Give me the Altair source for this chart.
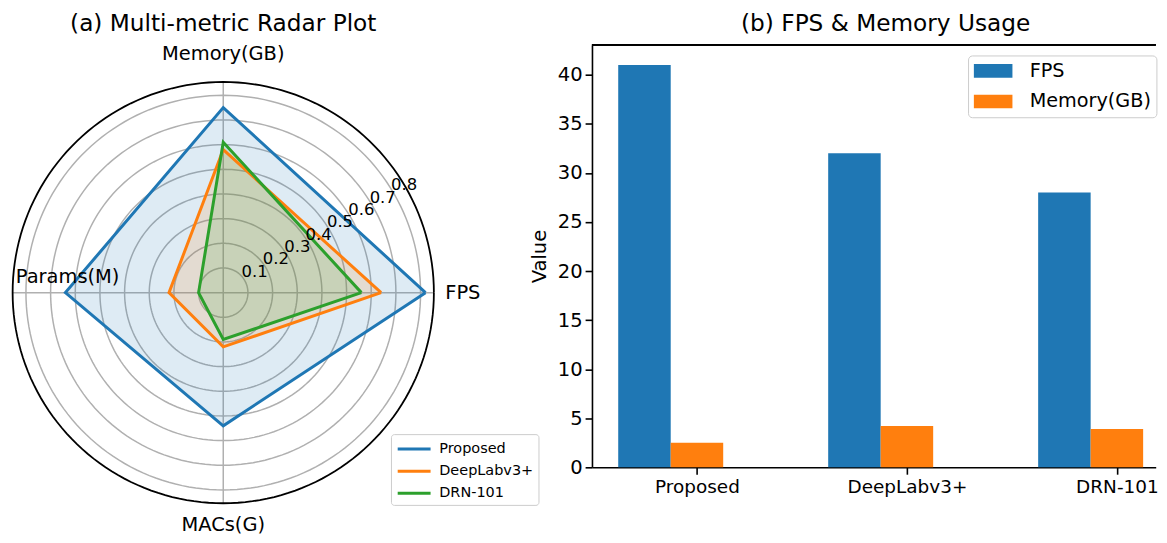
import altair as alt
import pandas as pd

# ---------------- data ----------------
models = ["Proposed", "DeepLabv3+", "DRN-101"]
metrics = ["FPS", "Memory(GB)", "Params(M)", "MACs(G)"]
proposed_scores = [0.82, 0.75, 0.64, 0.54]
deeplab_scores = [0.64, 0.58, 0.22, 0.22]
drn_scores = [0.56, 0.61, 0.10, 0.19]
r_ticks = [0.1, 0.2, 0.3, 0.4, 0.5, 0.6, 0.7, 0.8]
r_max = 0.854

bar_series = ["FPS", "Memory(GB)"]
fps = [41, 32, 28]
memory_gb = [2.5, 4.2, 3.9]
y_ticks = [0, 5, 10, 15, 20, 25, 30, 35, 40]
y_max = 43.05

model_colors = ["#1f77b4", "#ff7f0e", "#2ca02c"]
bar_colors = ["#1f77b4", "#ff7f0e"]
FONT = "DejaVu Sans"

# ---------------- layout constants ----------------
PX = 247.5            # px per radar unit
WL, HL = 585.3, 470   # left panel plot size
CX, CY = 216, 248.7   # radar centre inside left panel
xdom = [-CX / PX, (WL - CX) / PX]
ydom = [(CY - HL) / PX, CY / PX]
N = len(metrics)
RLABEL_DEG = 30

# radar tables
poly_rows = []
for m, sc in zip(models, [proposed_scores, deeplab_scores, drn_scores]):
    for k in range(N + 1):
        poly_rows.append({"model": m, "k": k, "v": sc[k % N]})
poly = pd.DataFrame(poly_rows)

grid = pd.DataFrame([{"r": r, "deg": d} for r in r_ticks for d in range(0, 361, 2)])
outer = pd.DataFrame([{"r": r_max, "deg": d} for d in range(0, 361, 2)])
spokes = pd.DataFrame({"k": list(range(N)), "r": [r_max] * N})
rlab = pd.DataFrame({"r": r_ticks, "txt": [f"{r:.1f}" for r in r_ticks]})

# axis-label placement (layout, in radar units)
lab_pos = {
    "FPS": (0.900, -0.025),
    "Memory(GB)": (0.0, 0.944),
    "Params(M)": (-0.631, 0.038),
    "MACs(G)": (0.0, -0.965),
}
labs = pd.DataFrame({"metric": metrics,
                     "lx": [lab_pos[m][0] for m in metrics],
                     "ly": [lab_pos[m][1] for m in metrics]})

xs = alt.Scale(domain=xdom, nice=False, zero=False)
ys = alt.Scale(domain=ydom, nice=False, zero=False)


def XY(xf="x", yf="y"):
    return dict(x=alt.X(f"{xf}:Q", scale=xs, axis=None),
                y=alt.Y(f"{yf}:Q", scale=ys, axis=None))


circ_calc = dict(x="datum.r * cos(datum.deg * PI / 180)",
                 y="datum.r * sin(datum.deg * PI / 180)")

grid_layer = alt.Chart(grid).transform_calculate(**circ_calc).mark_line(
    color="#b0b0b0", strokeWidth=1.5
).encode(**XY(), detail="r:N", order="deg:Q")

spoke_layer = alt.Chart(spokes).transform_calculate(
    x=f"datum.r * cos(datum.k * 2 * PI / {N})",
    y=f"datum.r * sin(datum.k * 2 * PI / {N})",
    x0="0", y0="0",
).mark_rule(color="#b0b0b0", strokeWidth=1.5).encode(
    x=alt.X("x0:Q", scale=xs, axis=None), y=alt.Y("y0:Q", scale=ys, axis=None),
    x2="x:Q", y2="y:Q")

poly_calc = dict(x=f"datum.v * cos(datum.k * 2 * PI / {N})",
                 y=f"datum.v * sin(datum.k * 2 * PI / {N})")

fill_layers = [
    alt.Chart(poly).transform_filter(alt.datum.model == m).transform_calculate(**poly_calc)
    .mark_line(fill=c, fillOpacity=0.15, strokeOpacity=0, stroke=c)
    .encode(**XY(), order="k:Q")
    for m, c in zip(models, model_colors)
]

# legend symbol: a 33px horizontal line (custom path, half-size trick keeps rows compact)
R_SYM = 16.5
line_layer = alt.Chart(poly).transform_calculate(**poly_calc).mark_line(
    strokeWidth=3, strokeJoin="miter"
).encode(**XY(), order="k:Q",
         color=alt.Color("model:N", scale=alt.Scale(domain=models, range=model_colors),
                         legend=alt.Legend(title=None, orient="none", legendX=384.3, legendY=390.7,
                                           symbolType="M-2,0L2,0", symbolSize=R_SYM ** 2,
                                           symbolStrokeWidth=3, symbolOffset=R_SYM / 2,
                                           symbolFillColor="transparent",
                                           labelFontSize=14.5, labelOffset=15.2,
                                           rowPadding=5.2,
                                           padding=5, strokeColor="#cccccc",
                                           fillColor="rgba(255,255,255,0.8)", cornerRadius=3,
                                           labelColor="black", labelFont=FONT)))

outer_layer = alt.Chart(outer).transform_calculate(**circ_calc).mark_line(
    color="black", strokeWidth=1.8
).encode(**XY(), order="deg:Q")

rlab_layer = alt.Chart(rlab).transform_calculate(
    x=f"datum.r * cos({RLABEL_DEG} * PI / 180)",
    y=f"datum.r * sin({RLABEL_DEG} * PI / 180)",
).mark_text(fontSize=16.5, dx=10, dy=-8.5, align="center", baseline="middle",
            color="black", font=FONT).encode(**XY(), text="txt:N")

lab_left = alt.Chart(labs).transform_filter("datum.metric == 'FPS'").mark_text(
    fontSize=19.5, align="left", baseline="alphabetic", color="black", font=FONT
).encode(**XY("lx", "ly"), text="metric:N")
lab_center = alt.Chart(labs).transform_filter("datum.metric != 'FPS'").mark_text(
    fontSize=19.5, align="center", baseline="alphabetic", color="black", font=FONT
).encode(**XY("lx", "ly"), text="metric:N")

left = alt.layer(grid_layer, spoke_layer, *fill_layers, line_layer, outer_layer,
                 rlab_layer, lab_left, lab_center).properties(
    width=WL, height=HL,
    title=alt.TitleParams("(a) Multi-metric Radar Plot", dx=-76.65),
    view=alt.ViewBackground(stroke=None),
)

# ---------------- bar chart ----------------
bars = pd.DataFrame({
    "idx": list(range(len(models))) * 2,
    "series": [bar_series[0]] * len(models) + [bar_series[1]] * len(models),
    "value": fps + memory_gb,
})
BW = 0.25
WR, HR = 565.7, 424
PXR = 210.7
xr_dom = [-0.375, -0.375 + WR / PXR]
label_js = "[" + ",".join(f"'{m}'" for m in models) + "]"

xr = alt.Scale(domain=xr_dom, nice=False, zero=False)
yr = alt.Scale(domain=[0, y_max], nice=False, zero=True)

R_SW = 19.35  # half swatch width
bar_layer = alt.Chart(bars).transform_calculate(
    x0=f"datum.idx + (datum.series == '{bar_series[0]}' ? -{BW} : 0)",
).transform_calculate(x1=f"datum.x0 + {BW}").mark_bar().encode(
    x=alt.X("x0:Q", scale=xr,
            axis=alt.Axis(values=[i + BW / 2 for i in range(len(models))],
                          labelExpr=f"{label_js}[round(datum.value - {BW / 2})]",
                          title=None, labelPadding=3.6, labelFontSize=18.5)),
    x2="x1:Q",
    y=alt.Y("value:Q", scale=yr,
            axis=alt.Axis(values=y_ticks, title="Value", titleX=-52.5, titleY=HR / 2,
                          titleBaseline="middle", labelPadding=3)),
    y2=alt.datum(0),
    color=alt.Color("series:N", scale=alt.Scale(domain=bar_series, range=bar_colors),
                    legend=alt.Legend(title=None, orient="none", legendX=377.4, legendY=10.7,
                                      symbolType="M-2,-0.708L2,-0.708L2,0.708L-2,0.708Z",
                                      symbolSize=R_SW ** 2, symbolStrokeWidth=0,
                                      symbolOffset=R_SW / 2,
                                      labelFontSize=19.3, labelOffset=26.65,
                                      rowPadding=9.7,
                                      padding=5.5, strokeColor="#cccccc",
                                      fillColor="rgba(255,255,255,0.8)", cornerRadius=4,
                                      labelColor="black", labelFont=FONT)),
)

top_spine = alt.Chart(bars).mark_rule(color="black", strokeWidth=1.6).encode(
    y=alt.datum(y_max, scale=yr)
)

right = alt.layer(bar_layer, top_spine).properties(
    width=WR, height=HR,
    title=alt.TitleParams("(b) FPS & Memory Usage", dx=11.85),
    view=alt.ViewBackground(stroke=None),
)

chart = alt.hconcat(left, right, spacing=0, bounds="flush").resolve_scale(
    color="independent"
).properties(
    padding={"left": 0, "top": 3, "right": 0, "bottom": 0}
).configure(font=FONT).configure_title(
    fontSize=23.3, fontWeight="normal", color="black", baseline="alphabetic",
    offset=7.3, frame="group", anchor="middle", font=FONT
).configure_axis(
    domainColor="black", domainWidth=1.6, tickColor="black", tickWidth=1.6, tickSize=6.9,
    labelFontSize=19.6, labelColor="black", labelFont=FONT, grid=False,
    titleFontSize=19.6, titleFontWeight="normal", titleColor="black", titleFont=FONT,
)

chart.save("out.html", embed_options={"renderer": "svg", "actions": False})
